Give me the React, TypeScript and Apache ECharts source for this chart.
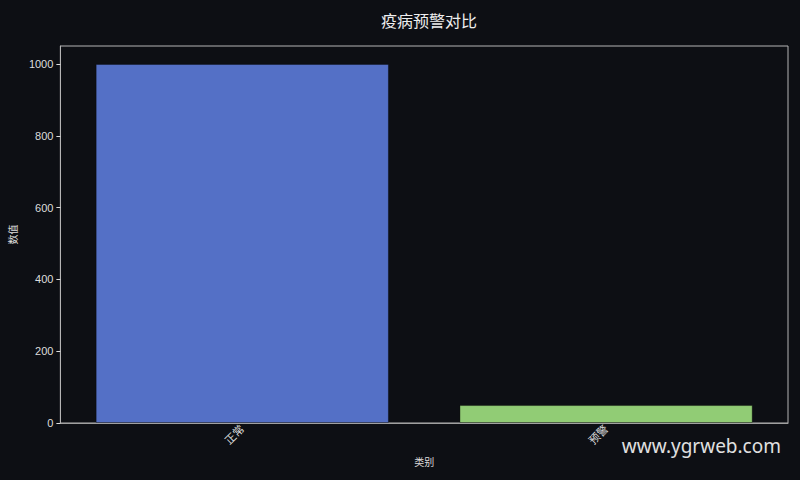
import React, { useEffect, useRef } from "react";
import * as echarts from "echarts";

// data
const categories = ["正常", "预警"];
const counts = [1000, 50];
const barColors = ["#5470c6", "#91cc75"];
const yTicks = [0, 200, 400, 600, 800, 1000];

const FONT = "'Liberation Sans', 'Noto Sans CJK SC', sans-serif";

const App = () => {
    const chartRef = useRef<HTMLDivElement>(null);

    useEffect(() => {
        if (!chartRef.current) return;
        const chart = echarts.init(chartRef.current, null, { renderer: "svg" });

        chart.setOption({
            animation: false,
            backgroundColor: "#0d0f14",
            title: {
                text: "疫病预警对比",
                left: 424,
                textAlign: "center",
                top: 7,
                textStyle: {
                    color: "#eeeeee",
                    fontSize: 16,
                    fontWeight: "normal",
                    fontFamily: "'Noto Sans CJK SC', sans-serif",
                },
            },
            grid: {
                left: 59,
                right: 12,
                top: 46,
                bottom: 57,
                show: true,
                borderColor: "#b5b5b5",
                borderWidth: 1,
            },
            xAxis: {
                type: "category",
                data: categories,
                name: "类别",
                nameLocation: "middle",
                nameGap: 34,
                nameTextStyle: { color: "#dddddd", fontSize: 10, fontFamily: FONT },
                axisLine: { lineStyle: { color: "#a0a0a0" } },
                axisTick: { alignWithLabel: true, length: 4, lineStyle: { color: "#dddddd" } },
                axisLabel: {
                    rotate: 45,
                    margin: 4,
                    color: "#dddddd",
                    fontSize: 11,
                    fontFamily: FONT,
                },
                splitLine: { show: false },
            },
            yAxis: {
                type: "value",
                min: 0,
                max: 1050,
                interval: 200,
                name: "数值",
                nameLocation: "middle",
                nameGap: 40,
                nameTextStyle: { color: "#dddddd", fontSize: 10, fontFamily: FONT },
                axisLine: { show: true, lineStyle: { color: "#b5b5b5" } },
                axisTick: {
                    show: true,
                    length: 4,
                    customValues: yTicks,
                    lineStyle: { color: "#dddddd" },
                },
                axisLabel: {
                    customValues: yTicks,
                    formatter: (v: number) => String(v),
                    margin: 7,
                    color: "#dddddd",
                    fontSize: 11,
                    fontFamily: FONT,
                },
                splitLine: { show: false },
            },
            graphic: [
                {
                    type: "text",
                    right: 19,
                    top: 436,
                    style: {
                        text: "www.ygrweb.com",
                        fill: "#e0e0e0",
                        fontSize: 19,
                        fontFamily: "'Noto Sans', sans-serif",
                    },
                },
            ],
            series: [
                {
                    type: "bar",
                    barWidth: "80.6%",
                    data: counts.map((v, i) => ({
                        value: v,
                        itemStyle: {
                            color: barColors[i],
                            borderColor: "rgba(0,0,0,0.35)",
                            borderWidth: 1,
                        },
                    })),
                },
            ],
        });

        return () => {
            chart.dispose();
        };
    }, []);

    return (
        <div
            ref={chartRef}
            style={{ position: "fixed", left: 0, top: 0, width: 800, height: 480 }}
        />
    );
};

export default App;
